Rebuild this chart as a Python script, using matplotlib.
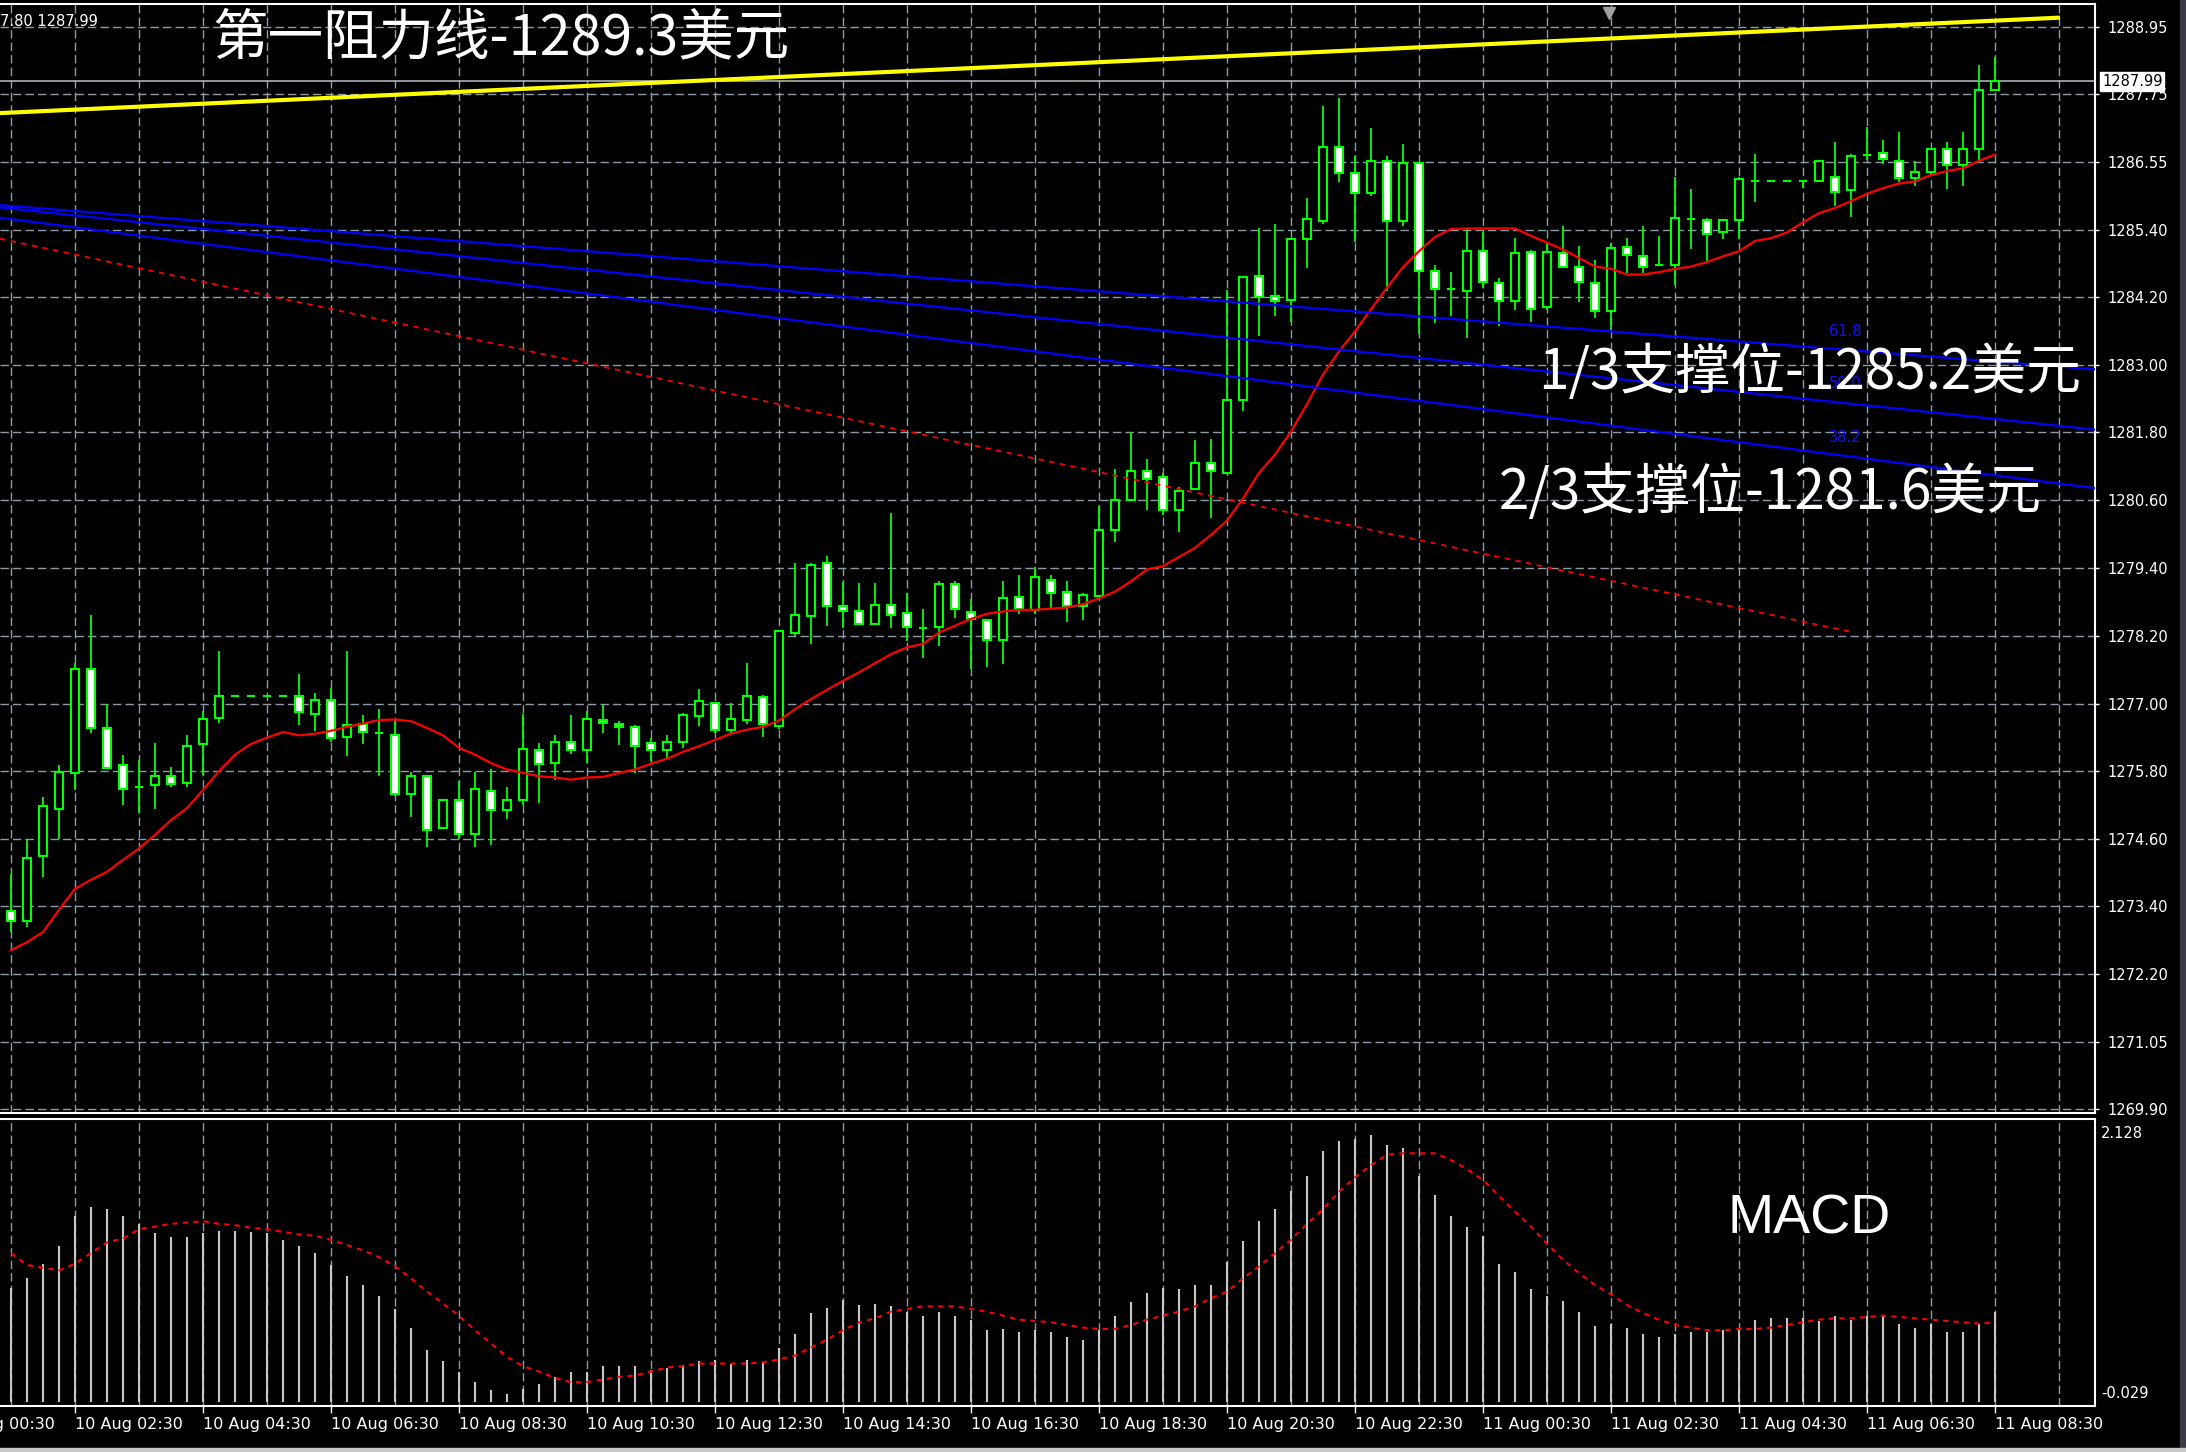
import matplotlib
matplotlib.use('Agg')
import matplotlib.pyplot as plt
import matplotlib.transforms as mtransforms
import numpy as np

plt.rcParams['font.family'] = ['Noto Sans CJK SC', 'DejaVu Sans']

# XAUUSD M15 bars, 10 Aug 01:30 -> 11 Aug 08:30
opens = [1273.39, 1273.21, 1274.35, 1275.19, 1275.82, 1277.64, 1276.61, 1275.95, 1275.57, 1275.61,
         1275.76, 1275.65, 1276.32, 1276.79, 1277.17, 1277.17, 1277.17, 1277.17, 1277.17, 1276.86,
         1277.10, 1276.46, 1276.68, 1276.52, 1276.49, 1275.45, 1275.76, 1274.85, 1275.34, 1274.74,
         1275.51, 1275.16, 1275.34, 1276.23, 1276.00, 1276.37, 1276.22, 1276.75, 1276.68, 1276.62,
         1276.34, 1276.22, 1276.37, 1276.82, 1277.05, 1276.57, 1276.75, 1277.15, 1276.64, 1278.29,
         1278.58, 1279.52, 1278.76, 1278.66, 1278.44, 1278.77, 1278.63, 1278.37, 1278.38, 1279.15,
         1278.65, 1278.51, 1278.16, 1278.92, 1278.68, 1279.22, 1279.01, 1278.76, 1278.93, 1280.10,
         1280.63, 1281.13, 1281.02, 1280.45, 1280.81, 1281.27, 1281.10, 1282.39, 1284.57, 1284.22,
         1284.15, 1285.21, 1285.53, 1286.84, 1286.38, 1286.02, 1286.59, 1285.53, 1286.55, 1284.65,
         1284.33, 1284.30, 1285.00, 1284.44, 1284.13, 1284.98, 1284.01, 1284.97, 1284.73, 1284.44,
         1283.95, 1285.08, 1284.92, 1284.75, 1284.75, 1285.57, 1285.55, 1285.34, 1285.55, 1286.23,
         1286.23, 1286.23, 1286.23, 1286.23, 1286.31, 1286.07, 1286.70, 1286.73, 1286.58, 1286.29,
         1286.40, 1286.80, 1286.51, 1286.80, 1287.84]
highs = [1274.04, 1274.64, 1275.39, 1275.95, 1277.76, 1278.60, 1277.04, 1276.13, 1276.05, 1276.34,
         1275.92, 1276.48, 1276.91, 1277.96, 1277.17, 1277.17, 1277.17, 1277.17, 1277.56, 1277.22,
         1277.32, 1277.96, 1276.83, 1276.94, 1276.73, 1275.84, 1275.76, 1275.34, 1275.67, 1275.84,
         1275.88, 1275.57, 1276.86, 1276.34, 1276.48, 1276.84, 1276.91, 1277.01, 1276.74, 1276.66,
         1276.44, 1276.48, 1276.87, 1277.29, 1277.05, 1277.05, 1277.75, 1277.19, 1278.31, 1279.52,
         1279.52, 1279.63, 1279.18, 1279.16, 1279.16, 1280.40, 1278.99, 1278.71, 1279.19, 1279.19,
         1278.88, 1278.51, 1279.19, 1279.31, 1279.44, 1279.30, 1279.19, 1278.99, 1280.51, 1281.17,
         1281.81, 1281.35, 1281.10, 1280.85, 1281.67, 1281.70, 1284.31, 1284.54, 1285.40, 1285.47,
         1285.21, 1285.93, 1287.55, 1287.69, 1286.67, 1287.17, 1286.67, 1286.88, 1286.55, 1284.76,
         1284.63, 1285.39, 1285.34, 1284.52, 1285.23, 1285.02, 1285.14, 1285.45, 1285.09, 1284.85,
         1285.14, 1285.24, 1285.45, 1285.27, 1286.31, 1286.09, 1285.58, 1285.55, 1286.31, 1286.71,
         1286.23, 1286.23, 1286.23, 1286.59, 1286.92, 1286.71, 1287.18, 1286.95, 1287.09, 1286.59,
         1286.80, 1286.92, 1287.09, 1288.27, 1288.41]
lows = [1273.02, 1273.11, 1273.99, 1274.66, 1275.52, 1276.52, 1275.89, 1275.25, 1275.11, 1275.18,
        1275.57, 1275.57, 1275.78, 1276.70, 1277.17, 1277.17, 1277.17, 1277.17, 1276.67, 1276.55,
        1276.36, 1276.11, 1276.32, 1275.76, 1275.41, 1275.05, 1274.52, 1274.85, 1274.66, 1274.52,
        1274.55, 1275.01, 1275.26, 1275.29, 1275.69, 1276.15, 1276.00, 1276.53, 1276.31, 1275.82,
        1276.03, 1276.09, 1276.25, 1276.65, 1276.53, 1276.53, 1276.68, 1276.45, 1276.59, 1278.22,
        1278.09, 1278.40, 1278.37, 1278.44, 1278.44, 1278.37, 1278.14, 1277.84, 1278.06, 1278.54,
        1277.64, 1277.69, 1277.74, 1278.61, 1278.62, 1278.73, 1278.47, 1278.51, 1278.89, 1279.88,
        1280.63, 1280.44, 1280.35, 1280.06, 1280.81, 1280.31, 1281.10, 1282.18, 1283.51, 1283.86,
        1283.75, 1284.70, 1285.48, 1286.22, 1285.16, 1285.98, 1284.30, 1285.45, 1283.54, 1283.73,
        1283.86, 1283.48, 1284.36, 1283.69, 1283.97, 1283.75, 1283.97, 1284.73, 1284.11, 1283.83,
        1283.61, 1284.62, 1284.62, 1284.75, 1284.41, 1285.04, 1284.82, 1285.22, 1285.22, 1285.86,
        1286.23, 1286.23, 1286.12, 1286.23, 1285.79, 1285.61, 1286.61, 1286.53, 1286.21, 1286.15,
        1286.34, 1286.10, 1286.15, 1286.61, 1287.84]
closes = [1273.21, 1274.33, 1275.24, 1275.84, 1277.64, 1276.61, 1275.91, 1275.54, 1275.57, 1275.77,
          1275.63, 1276.30, 1276.76, 1277.17, 1277.17, 1277.17, 1277.17, 1277.17, 1276.89, 1277.11,
          1276.44, 1276.66, 1276.54, 1276.52, 1275.45, 1275.76, 1274.82, 1275.34, 1274.75, 1275.54,
          1275.17, 1275.34, 1276.24, 1275.97, 1276.37, 1276.22, 1276.76, 1276.69, 1276.62, 1276.29,
          1276.22, 1276.37, 1276.84, 1277.08, 1276.57, 1276.76, 1277.18, 1276.68, 1278.31, 1278.60,
          1279.48, 1278.76, 1278.66, 1278.44, 1278.77, 1278.59, 1278.38, 1278.37, 1279.15, 1278.71,
          1278.53, 1278.16, 1278.90, 1278.71, 1279.27, 1278.98, 1278.76, 1278.95, 1280.10, 1280.63,
          1281.13, 1280.99, 1280.45, 1280.78, 1281.27, 1281.13, 1282.39, 1284.54, 1284.20, 1284.13,
          1285.21, 1285.57, 1286.84, 1286.37, 1286.02, 1286.59, 1285.53, 1286.55, 1284.65, 1284.33,
          1284.33, 1285.00, 1284.45, 1284.13, 1284.96, 1283.99, 1284.98, 1284.73, 1284.45, 1283.95,
          1285.05, 1284.94, 1284.73, 1284.75, 1285.58, 1285.57, 1285.30, 1285.55, 1286.27, 1286.23,
          1286.23, 1286.23, 1286.23, 1286.59, 1286.04, 1286.67, 1286.70, 1286.62, 1286.29, 1286.40,
          1286.80, 1286.51, 1286.80, 1287.84, 1287.99]
ma_line = [1272.70, 1272.84, 1273.02, 1273.41, 1273.78, 1273.94, 1274.08, 1274.29, 1274.49, 1274.73,
           1274.99, 1275.20, 1275.52, 1275.85, 1276.14, 1276.33, 1276.44, 1276.54, 1276.48, 1276.51,
           1276.56, 1276.63, 1276.69, 1276.75, 1276.76, 1276.73, 1276.61, 1276.48, 1276.26, 1276.14,
           1275.99, 1275.88, 1275.82, 1275.76, 1275.74, 1275.70, 1275.74, 1275.75, 1275.82, 1275.88,
           1275.98, 1276.07, 1276.19, 1276.29, 1276.40, 1276.51, 1276.58, 1276.63, 1276.74, 1276.94,
           1277.12, 1277.28, 1277.44, 1277.59, 1277.75, 1277.91, 1278.03, 1278.09, 1278.29, 1278.41,
           1278.53, 1278.62, 1278.66, 1278.69, 1278.69, 1278.71, 1278.73, 1278.79, 1278.89, 1279.01,
           1279.19, 1279.40, 1279.46, 1279.62, 1279.78, 1280.01, 1280.26, 1280.65, 1281.10, 1281.42,
           1281.83, 1282.31, 1282.83, 1283.24, 1283.59, 1283.98, 1284.36, 1284.72, 1285.00, 1285.25,
           1285.39, 1285.40, 1285.40, 1285.40, 1285.40, 1285.27, 1285.15, 1285.03, 1284.88, 1284.73,
           1284.69, 1284.59, 1284.59, 1284.63, 1284.69, 1284.73, 1284.81, 1284.91, 1285.00, 1285.18,
           1285.23, 1285.33, 1285.51, 1285.67, 1285.76, 1285.88, 1286.01, 1286.11, 1286.19, 1286.23,
           1286.34, 1286.41, 1286.46, 1286.59, 1286.70]
macd_hist = [0.86, 0.93, 1.04, 1.17, 1.40, 1.47, 1.45, 1.40, 1.34, 1.27,
             1.24, 1.24, 1.27, 1.29, 1.29, 1.28, 1.27, 1.22, 1.17, 1.12,
             1.03, 0.95, 0.88, 0.80, 0.70, 0.56, 0.39, 0.31, 0.23, 0.15,
             0.09, 0.06, 0.10, 0.14, 0.19, 0.23, 0.23, 0.27, 0.27, 0.27,
             0.24, 0.26, 0.28, 0.31, 0.32, 0.29, 0.32, 0.30, 0.41, 0.51,
             0.67, 0.71, 0.77, 0.73, 0.74, 0.72, 0.68, 0.65, 0.68, 0.65,
             0.62, 0.54, 0.55, 0.53, 0.54, 0.53, 0.49, 0.47, 0.54, 0.65,
             0.75, 0.82, 0.86, 0.85, 0.88, 0.88, 1.05, 1.21, 1.36, 1.45,
             1.59, 1.70, 1.89, 1.96, 1.98, 2.01, 1.93, 1.91, 1.70, 1.56,
             1.40, 1.32, 1.25, 1.04, 0.98, 0.85, 0.80, 0.76, 0.68, 0.57,
             0.59, 0.56, 0.51, 0.49, 0.51, 0.53, 0.53, 0.54, 0.55, 0.62,
             0.63, 0.63, 0.63, 0.61, 0.65, 0.62, 0.65, 0.65, 0.59, 0.56,
             0.59, 0.53, 0.53, 0.59, 0.68]
macd_signal = [1.12, 1.03, 1.01, 0.99, 1.04, 1.12, 1.20, 1.23, 1.30, 1.32,
               1.34, 1.35, 1.36, 1.34, 1.33, 1.31, 1.30, 1.28, 1.26, 1.25,
               1.22, 1.18, 1.14, 1.09, 1.02, 0.93, 0.83, 0.74, 0.65, 0.54,
               0.44, 0.34, 0.27, 0.23, 0.18, 0.15, 0.15, 0.17, 0.19, 0.20,
               0.23, 0.26, 0.27, 0.29, 0.29, 0.29, 0.29, 0.30, 0.32, 0.35,
               0.41, 0.47, 0.54, 0.60, 0.63, 0.68, 0.70, 0.72, 0.72, 0.72,
               0.70, 0.68, 0.65, 0.62, 0.61, 0.60, 0.58, 0.56, 0.55, 0.55,
               0.58, 0.62, 0.65, 0.68, 0.72, 0.78, 0.83, 0.93, 1.02, 1.12,
               1.22, 1.34, 1.45, 1.58, 1.69, 1.78, 1.86, 1.87, 1.87, 1.87,
               1.82, 1.75, 1.67, 1.55, 1.43, 1.32, 1.19, 1.07, 0.97, 0.88,
               0.81, 0.73, 0.67, 0.62, 0.58, 0.56, 0.54, 0.54, 0.55, 0.55,
               0.56, 0.58, 0.60, 0.62, 0.63, 0.63, 0.64, 0.65, 0.64, 0.63,
               0.62, 0.61, 0.60, 0.59, 0.60]

price_ticks = [1269.90, 1271.09, 1272.28, 1273.47, 1274.66, 1275.85, 1277.04, 1278.23, 1279.42,
               1280.62, 1281.81, 1283.00, 1284.19, 1285.38, 1286.57, 1287.76, 1288.95]
price_labels = ['1269.90', '1271.05', '1272.20', '1273.40', '1274.60', '1275.80', '1277.00', '1278.20',
                '1279.40', '1280.60', '1281.80', '1283.00', '1284.20', '1285.40', '1286.55', '1287.75',
                '1288.95']
time_pos = [-4, 4, 12, 20, 28, 36, 44, 52, 60, 68, 76, 84, 92, 100, 108, 116, 124]
time_labels = ['10 Aug 00:30', '10 Aug 02:30', '10 Aug 04:30', '10 Aug 06:30', '10 Aug 08:30',
               '10 Aug 10:30', '10 Aug 12:30', '10 Aug 14:30', '10 Aug 16:30', '10 Aug 18:30',
               '10 Aug 20:30', '10 Aug 22:30', '11 Aug 00:30', '11 Aug 02:30', '11 Aug 04:30',
               '11 Aug 06:30', '11 Aug 08:30']

# drawn objects: (x in bars, price) end points
resist_x, resist_y = [-0.69, 128.06], [1287.43, 1289.11]
fan618_x, fan618_y = [-0.69, 130.25], [1285.81, 1282.92]
fan500_x, fan500_y = [-0.69, 130.25], [1285.77, 1281.86]
fan382_x, fan382_y = [-0.69, 130.25], [1285.59, 1280.83]
redtl_x, redtl_y = [-0.69, 115.2], [1285.22, 1278.29]
last_price = 1287.99

W, H = 2186, 1452
grid_c = '#8d9bab'
grid_ls = (0, (6, 3))
xmin, xmax = -0.69, 130.25

fig = plt.figure(figsize=(W / 100, H / 100), dpi=100, facecolor='black')
ax = fig.add_axes([0, 1 - 1113 / H, 2095 / W, (1113 - 4) / H], facecolor='black')
ax2 = fig.add_axes([0, 1 - 1406 / H, 2095 / W, (1406 - 1119) / H], facecolor='black')

idx = np.arange(len(closes))
o, h, l, c = map(np.array, (opens, highs, lows, closes))

# main pane
ax.set_xlim(xmin, xmax)
ax.set_ylim(1269.835, 1289.35)
ax.set_xticks(np.arange(0, 131, 4))
ax.set_yticks(price_ticks, price_labels)
ax.yaxis.tick_right()
ax.tick_params(axis='x', length=0, labelbottom=False)
ax.tick_params(axis='y', colors='white', length=3, width=1, pad=6, labelsize=10.5)
for t in ax.get_yticklabels():
    t.set_family('DejaVu Sans')
ax.grid(True, color=grid_c, ls=grid_ls, lw=1.0, zorder=0)
ax.set_axisbelow(True)
for side in ['top', 'right', 'bottom']:
    ax.spines[side].set_color('white')
    ax.spines[side].set_linewidth(1.5)
ax.spines['left'].set_visible(False)

ax.vlines(idx, l, h, color='#00ff00', lw=1.3, zorder=3)
body_c = ['black' if cc >= oo else 'white' for oo, cc in zip(opens, closes)]
ax.bar(idx, np.abs(c - o), bottom=np.minimum(o, c), width=0.46, color=body_c,
       edgecolor='#00ff00', linewidth=1.5, zorder=4)
ax.plot(idx, ma_line, color='#ff0000', lw=1.6, zorder=5)

ax.axhline(last_price, color='#a8b0b8', lw=1.2, zorder=2)
ax.plot(resist_x, resist_y, color='#ffff00', lw=3, zorder=6, solid_capstyle='butt')
for fx, fy in [(fan618_x, fan618_y), (fan500_x, fan500_y), (fan382_x, fan382_y)]:
    ax.plot(fx, fy, color='#0000ff', lw=1.6, zorder=6)
ax.plot(redtl_x, redtl_y, color='#ff0000', lw=1.3, ls=(0, (3, 3)), zorder=6)

for lab, yv in [('61.8', 1283.58), ('50.0', 1282.68), ('38.2', 1281.73)]:
    ax.text(113.6, yv, lab, color='#1010ff', fontsize=10.5, family='DejaVu Sans',
            ha='left', va='center', zorder=6)

tr = mtransforms.blended_transform_factory(ax.transAxes, ax.transData)
ax.text(1.0034, last_price, '1287.99', transform=tr, color='black', fontsize=10.5,
        family='DejaVu Sans', ha='left', va='center', clip_on=False, zorder=20,
        bbox=dict(boxstyle='square,pad=0.12', fc='white', ec='white'))
ax.plot([99.9], [0.992], marker='v', color='#a0a0a0', ms=8,
        transform=mtransforms.blended_transform_factory(ax.transData, ax.transAxes),
        clip_on=False, zorder=20)

# MACD pane
ax2.set_xlim(xmin, xmax)
ax2.set_ylim(-0.029, 2.128)
ax2.set_xticks(np.arange(0, 131, 4))
ax2.set_xticks(time_pos[1:], minor=True)
ax2.xaxis.remove_overlapping_locs = False
ax2.tick_params(axis='x', which='major', length=0, labelbottom=False)
ax2.tick_params(axis='x', which='minor', length=5, width=1, color='white', labelbottom=False)
ax2.set_yticks([])
ax2.grid(True, axis='x', which='major', color=grid_c, ls=grid_ls, lw=1.0)
ax2.set_axisbelow(True)
for side in ['top', 'right', 'bottom']:
    ax2.spines[side].set_color('white')
    ax2.spines[side].set_linewidth(1.5)
ax2.spines['left'].set_visible(False)

ax2.vlines(idx, 0, macd_hist, color='#c8c8c8', lw=1.5, zorder=3)
ax2.plot(idx, macd_signal, color='#ff0000', lw=1.5, ls=(0, (2.5, 2.5)), zorder=4)

for pos, lab in zip(time_pos, time_labels):
    ax2.annotate(lab, xy=(pos, 0), xycoords=('data', 'axes fraction'), xytext=(0, -8),
                 textcoords='offset points', ha='left', va='top', color='white',
                 fontsize=11.5, family='DejaVu Sans', annotation_clip=False)
ax2.text(1.003, 0.95, '2.128', transform=ax2.transAxes, color='white', fontsize=10.5,
         family='DejaVu Sans', ha='left', va='center')
ax2.text(1.003, 0.045, '-0.029', transform=ax2.transAxes, color='white', fontsize=10.5,
         family='DejaVu Sans', ha='left', va='center')

# annotations
fig.text(212 / W, 1 - 39 / H, '第一阻力线-1289.3美元', color='white', fontsize=40,
         ha='left', va='center')
fig.text(1538 / W, 1 - 373 / H, '1/3支撑位-1285.2美元', color='white', fontsize=39.5,
         ha='left', va='center', zorder=10)
fig.text(1499 / W, 1 - 493 / H, '2/3支撑位-1281.6美元', color='white', fontsize=39.5,
         ha='left', va='center', zorder=10)
fig.text(1727 / W, 1 - 1220 / H, 'MACD', color='white', fontsize=40,
         family='Liberation Sans', ha='left', va='center')
fig.text(0, 1 - 21 / H, '7.80 1287.99', color='white', fontsize=10.5, family='DejaVu Sans',
         ha='left', va='center')

# window frame strips at the right and bottom edges
fig.add_artist(plt.Rectangle((2180 / W, 0), 6 / W, 1, transform=fig.transFigure,
                             color='#3a3a44', zorder=30))
fig.add_artist(plt.Rectangle((0, 0), 1, 4 / H, transform=fig.transFigure,
                             color='#c8c8c8', zorder=30))

fig.savefig('out.png', dpi=100, facecolor='black')
